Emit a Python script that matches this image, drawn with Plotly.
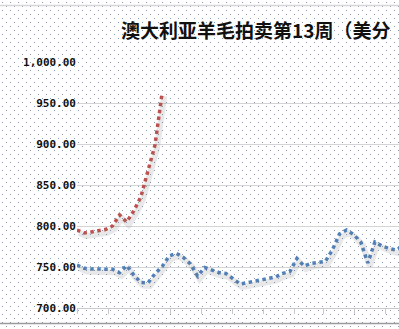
import base64
import datetime as dt
import plotly.graph_objects as go

# ---------------- data ----------------
season_start = dt.date(2021, 7, 1)
title_text = "澳大利亚羊毛拍卖第13周（美分"

# current season (red), weekly, weeks 1..13
current_values = [795.1, 791.5, 792.7, 794.5, 795.7, 800.0, 813.4,
                  804.9, 818.3, 835.4, 868.3, 898.8, 962.2]

# previous season (blue), weekly
previous_values = [752.4, 748.4, 747.6, 747.6, 747.2, 747.2, 743.0, 751.8,
                   740.2, 731.1, 730.5, 742.0, 750.6, 763.4, 766.7, 761.6,
                   753.7, 739.0, 749.4, 746.3, 743.3, 742.1, 735.4, 729.3,
                   730.9, 732.9, 734.1, 736.6, 737.8, 742.3, 744.3, 760.4,
                   751.2, 754.3, 755.5, 756.7, 770.7, 790.2, 795.1, 789.6,
                   780.5, 754.9, 780.5, 775.6, 772.6, 770.7, 775.6]

y_ticks = [700, 750, 800, 850, 900, 950, 1000]

cur_x = [season_start + dt.timedelta(days=7 * i) for i in range(len(current_values))]
prev_x = [season_start + dt.timedelta(days=7 * i) for i in range(len(previous_values))]

W, H = 399, 329
RED = "#c0504d"
BLUE = "#4f81bd"

x_range = ["2021-07-01", "2022-05-14 19:00"]
y_range = [700, 1000]
# shadow axes shifted a couple of pixels (right / down)
x_range_sh = ["2021-06-29", "2022-05-12 19:00"]
y_range_sh = [703.7, 1003.7]

x_dom = [77 / W, 1.0]
y_dom = [1 - 308 / H, 1 - 62 / H]

# background dotted pattern
svg = (
    f"<svg xmlns='http://www.w3.org/2000/svg' width='{W}' height='{H}'>"
    "<defs><pattern id='p' width='8' height='8' patternUnits='userSpaceOnUse'>"
    "<rect x='2' y='2' width='1' height='1' fill='#8a9bb5'/>"
    "<rect x='6' y='6' width='1' height='1' fill='#8a9bb5'/>"
    "</pattern></defs>"
    f"<rect width='{W}' height='{H}' fill='#ffffff'/>"
    f"<rect width='{W}' height='{H}' fill='url(#p)'/></svg>"
)
bg_src = "data:image/svg+xml;base64," + base64.b64encode(svg.encode()).decode()

fig = go.Figure()

shadow = dict(color="rgba(110,110,110,0.16)", width=6)
fig.add_trace(go.Scatter(x=prev_x, y=previous_values, mode="lines", line=shadow,
                         xaxis="x2", yaxis="y2", hoverinfo="skip", showlegend=False))
fig.add_trace(go.Scatter(x=cur_x, y=current_values, mode="lines", line=shadow,
                         xaxis="x2", yaxis="y2", hoverinfo="skip", showlegend=False))

fig.add_trace(go.Scatter(x=prev_x, y=previous_values, mode="lines",
                         line=dict(color=BLUE, width=3.5, dash="3.5px,3.5px"), showlegend=False))
fig.add_trace(go.Scatter(x=cur_x, y=current_values, mode="lines",
                         line=dict(color=RED, width=3.5, dash="3.5px,3.5px"), showlegend=False))

fig.update_layout(
    template="none",
    width=W, height=H,
    margin=dict(l=0, r=0, t=0, b=0),
    paper_bgcolor="#ffffff",
    plot_bgcolor="rgba(0,0,0,0)",
    showlegend=False,
    title=dict(text=title_text, x=121 / W, xanchor="left", y=1 - 31 / H, yanchor="middle",
               font=dict(family="Noto Sans CJK SC", size=19, color="#111111", weight="bold")),
    xaxis=dict(domain=x_dom, range=x_range, type="date", showgrid=False,
               showticklabels=False, ticks="outside", ticklen=5, tickcolor="#c8c8c8",
               dtick="M1", tick0="2021-07-01", showline=True, linecolor="#c8c8c8",
               linewidth=1, zeroline=False, automargin=False),
    yaxis=dict(domain=y_dom, range=y_range, tickvals=y_ticks, tickformat=",.2f",
               showgrid=True, gridcolor="#d4d4d4", gridwidth=1, ticks="",
               showline=False, zeroline=False, automargin=False,
               tickfont=dict(family="DejaVu Sans Mono", size=11, color="#111111", weight="bold")),
    xaxis2=dict(domain=x_dom, range=x_range_sh, type="date", overlaying="x", visible=False),
    yaxis2=dict(domain=y_dom, range=y_range_sh, overlaying="y", visible=False),
    images=[dict(source=bg_src, xref="paper", yref="paper", x=0, y=1, sizex=1, sizey=1,
                 sizing="stretch", layer="below", xanchor="left", yanchor="top")],
    shapes=[
        dict(type="line", xref="paper", yref="paper", x0=0, x1=1, y0=1 - 5.5 / H, y1=1 - 5.5 / H,
             line=dict(color="#d6d6d6", width=1.5)),
        dict(type="line", xref="paper", yref="paper", x0=0, x1=1, y0=1 - 323.5 / H, y1=1 - 323.5 / H,
             line=dict(color="#9a9a9a", width=1.5)),
    ],
)

fig.write_html("out.html")
